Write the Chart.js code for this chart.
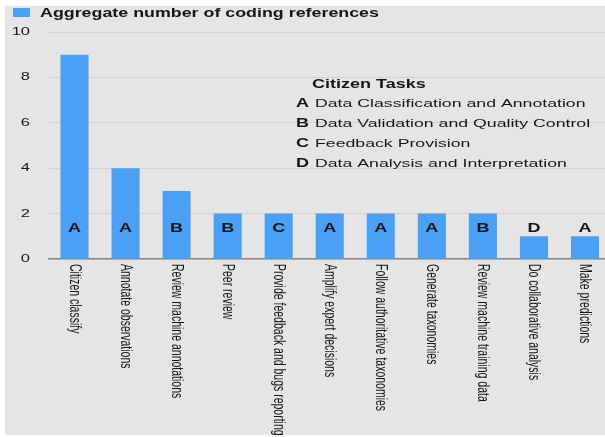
<!DOCTYPE html>
<html lang="en">
<head>
    <meta charset="UTF-8">
    <title>Citizen tasks - coding references</title>
    <script src="https://cdn.jsdelivr.net/npm/chart.js"></script>
    <style>
        html, body { margin: 0; padding: 0; overflow: hidden; background: #fff; }
        #wrap { width: 620px; height: 437px; }
    </style>
</head>
<body>
    <div id="wrap">
        <canvas id="barChart" width="620" height="437"></canvas>
    </div>

    <script>
        // data
        var categories = [
            'Citizen classify', 'Annotate observations', 'Review machine annotations', 'Peer review',
            'Provide feedback and bugs reporting', 'Amplify expert decisions', 'Follow authoritative taxonomies',
            'Generate taxonomies', 'Review machine training data', 'Do collaborative analysis', 'Make predictions'
        ];
        var values = [9, 4, 3, 2, 2, 2, 2, 2, 2, 1, 1];
        var taskCodes = ['A', 'A', 'B', 'B', 'C', 'A', 'A', 'A', 'B', 'D', 'A'];
        var seriesLabel = 'Aggregate number of coding references';
        var yTicks = [0, 2, 4, 6, 8, 10];
        var taskTitle = 'Citizen Tasks';
        var taskLetters = ['A', 'B', 'C', 'D'];
        var taskNames = [
            'Data Classification and Annotation',
            'Data Validation and Quality Control',
            'Feedback Provision',
            'Data Analysis and Interpretation'
        ];

        var FONT = '"Liberation Sans", Arial, sans-serif';
        var SX = 1.5;  // the source picture is stretched sideways
        var INK = '#161616';

        function wideText(ctx, text, x, y, font, align) {
            ctx.save();
            ctx.font = font;
            ctx.fillStyle = INK;
            ctx.textAlign = align || 'left';
            ctx.textBaseline = 'middle';
            ctx.translate(x, y);
            ctx.scale(SX, 1);
            ctx.fillText(text, 0, 0);
            ctx.restore();
        }

        var decorations = {
            id: 'decorations',
            beforeDraw: function (chart) {
                var ctx = chart.ctx;
                ctx.save();
                ctx.fillStyle = '#ffffff';
                ctx.fillRect(0, 0, chart.width, chart.height);
                ctx.fillStyle = '#e5e5e5';
                ctx.fillRect(5, 6, chart.width - 5, 429);
                ctx.restore();
            },
            afterDraw: function (chart) {
                var ctx = chart.ctx;
                var xs = chart.scales.x, ys = chart.scales.y;
                var ds = chart.data.datasets[0];

                // legend
                ctx.save();
                ctx.fillStyle = ds.backgroundColor;
                ctx.fillRect(13, 8, 17, 9);
                ctx.restore();
                wideText(ctx, ds.label, 40, 13.5, 'bold 11.9px ' + FONT);

                // y tick labels
                yTicks.forEach(function (t) {
                    wideText(ctx, String(t), 30, ys.getPixelForValue(t), '11px ' + FONT, 'right');
                });

                // rotated category labels, reading downwards
                chart.data.labels.forEach(function (lab, i) {
                    ctx.save();
                    ctx.font = '10.5px ' + FONT;
                    ctx.fillStyle = INK;
                    ctx.textAlign = 'left';
                    ctx.textBaseline = 'middle';
                    ctx.translate(xs.getPixelForValue(i), ys.bottom + 5);
                    ctx.rotate(Math.PI / 2);
                    ctx.scale(1, 1.6);
                    ctx.fillText(lab, 0, 0);
                    ctx.restore();
                });

                // task letter on each bar
                var letterY = ys.getPixelForValue(1.32);
                taskCodes.forEach(function (c, i) {
                    wideText(ctx, c, xs.getPixelForValue(i), letterY, 'bold 12px ' + FONT, 'center');
                });

                // task key
                wideText(ctx, taskTitle, 312, 85, 'bold 12px ' + FONT);
                taskLetters.forEach(function (c, i) {
                    var y = 104 + i * 20;
                    wideText(ctx, c, 296, y, 'bold 12px ' + FONT);
                    wideText(ctx, taskNames[i], 315, y, '11.8px ' + FONT);
                });
            }
        };

        var ctx = document.getElementById('barChart').getContext('2d');
        var myBarChart = new Chart(ctx, {
            type: 'bar',
            data: {
                labels: categories,
                datasets: [{
                    label: seriesLabel,
                    data: values,
                    backgroundColor: '#4aa0f5',
                    categoryPercentage: 1,
                    barPercentage: 0.55
                }]
            },
            options: {
                responsive: false,
                animation: false,
                layout: { padding: { left: 49, top: 32, right: 9.5, bottom: 178 } },
                plugins: {
                    legend: { display: false },
                    tooltip: { enabled: false }
                },
                scales: {
                    x: {
                        grid: { display: false, drawTicks: false },
                        ticks: { display: false },
                        border: { display: true, color: '#8a8a8a', width: 1.5 }
                    },
                    y: {
                        min: 0,
                        max: 10,
                        ticks: { display: false, stepSize: 2 },
                        grid: { color: '#d2d2d2', drawTicks: false },
                        border: { display: false }
                    }
                }
            },
            plugins: [decorations]
        });
    </script>
</body>
</html>
